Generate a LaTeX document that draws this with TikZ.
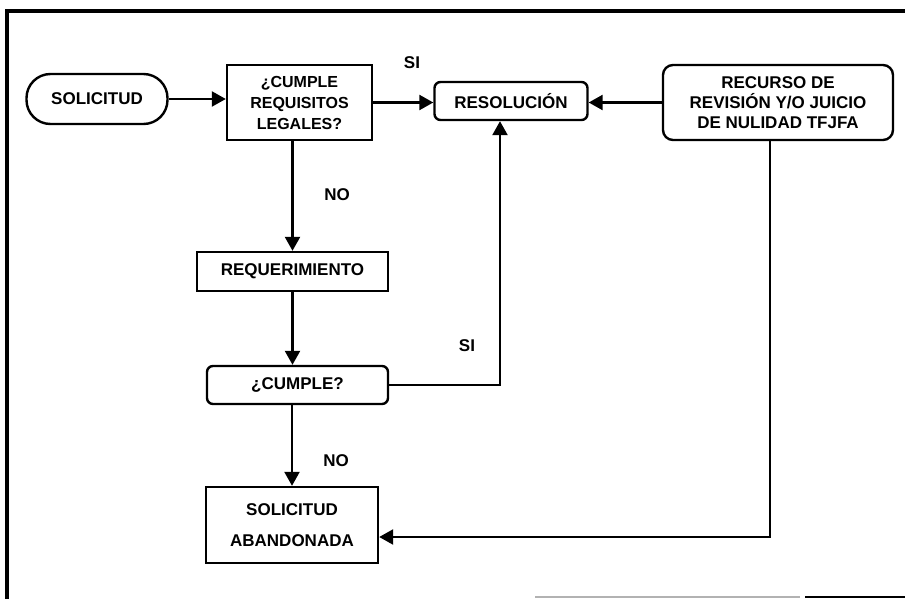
\documentclass[tikz,border=0pt]{standalone}
\usepackage{fontspec}
\setmainfont{Liberation Sans}
\usetikzlibrary{arrows.meta}

\begin{document}
\begin{tikzpicture}[x=1pt,y=-1pt,
		every node/.style={font=\bfseries\fontsize{17}{20}\selectfont, align=center},
		caja/.style={draw, line width=2.4pt, inner sep=0pt},
		redonda/.style={caja, rounded corners=6pt},
		flecha/.style={line width=2.4pt, -{Triangle[length=14pt,width=15pt]}}]
		\useasboundingbox (0,0) rectangle (905,599);
		% marco
		\draw[line width=4pt] (905,11) -- (7,11) -- (7,599);
		\draw[line width=1.5pt, gray!60] (535,597) -- (800,597);
		\draw[line width=2.5pt] (805,597) -- (905,597);
		% cajas
		\node[caja, rounded corners=24pt, minimum width=141pt, minimum height=50pt] (sol) at (97,99) {SOLICITUD};
		\node[caja, minimum width=145pt, minimum height=75pt, font=\bfseries\fontsize{16}{21}\selectfont] (req) at (299.5,102.5) {¿CUMPLE\\REQUISITOS\\LEGALES?};
		\node[redonda, minimum width=153pt, minimum height=38pt] (res) at (511,101) {RESOLUCIÓN};
		\node[redonda, rounded corners=10pt, minimum width=230pt, minimum height=75pt] (rec) at (778,102.5) {RECURSO DE\\REVISIÓN Y/O JUICIO\\DE NULIDAD TFJFA};
		\node[caja, minimum width=191pt, minimum height=39pt] (reqm) at (292.5,271.5) {REQUERIMIENTO};
		\node[redonda, minimum width=181pt, minimum height=38pt] (cum) at (297.5,385) {¿CUMPLE?};
		\node[caja, minimum width=172pt, minimum height=76pt, font=\bfseries\fontsize{17}{31}\selectfont] (aband) at (292,525) {SOLICITUD\\ABANDONADA};
		% etiquetas
		\node (si1) at (412,63) {SI};
		\node (no1) at (337,195) {NO};
		\node (si2) at (467,346) {SI};
		\node (no2) at (336,461) {NO};
		% flechas
		\draw[flecha] (sol.east) -- (sol.east -| req.west);
		\draw[flecha] (req.east) -- (req.east -| res.west);
		\draw[flecha] (rec.west) -- (rec.west -| res.east);
		\draw[flecha] (req.south -| reqm) -- (reqm.north);
		\draw[flecha] (reqm.south) -- (reqm.south |- cum.north);
		\draw[flecha] (cum.east) -| ([xshift=-11pt]res.south);
		\draw[flecha] (cum.south -| aband) -- (aband.north);
		\draw[flecha] ([xshift=-8pt]rec.south) |- ([yshift=-12pt]aband.east);
	\end{tikzpicture}
\end{document}
